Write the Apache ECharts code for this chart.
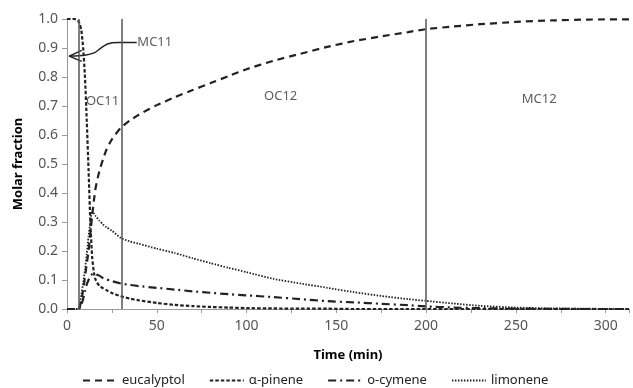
<!DOCTYPE html>
<html>
<head>
<meta charset="utf-8">
<script src="https://cdn.jsdelivr.net/npm/echarts@6/dist/echarts.min.js"></script>
<style>html,body{margin:0;padding:0;background:#fff}#c{width:633px;height:388px}</style>
</head>
<body>
<div id="c"></div>
<script>
// time axis (min)
const time = [0, 2, 4, 5, 6, 6.5, 7, 8, 9, 10, 11, 12, 13, 14, 15, 16, 18, 20, 22, 25, 30, 35, 40, 50, 60, 70, 80, 90, 100, 115, 130, 145, 160, 175, 190, 200, 215, 230, 250, 270, 290, 313];
const eucalyptol = [0, 0, 0, 0, 0, 0, 0.005, 0.03, 0.065, 0.11, 0.155, 0.2, 0.26, 0.32, 0.375, 0.42, 0.475, 0.515, 0.55, 0.585, 0.625, 0.65, 0.67, 0.703, 0.73, 0.755, 0.779, 0.803, 0.827, 0.856, 0.88, 0.904, 0.924, 0.94, 0.955, 0.965, 0.974, 0.982, 0.99, 0.995, 0.998, 0.999];
const alphaPinene = [1, 1, 1, 0.998, 0.995, 0.99, 0.985, 0.96, 0.9, 0.8, 0.65, 0.48, 0.3, 0.18, 0.125, 0.1, 0.08, 0.072, 0.065, 0.055, 0.044, 0.036, 0.03, 0.021, 0.014, 0.01, 0.007, 0.005, 0.003, 0.002, 0.001, 0.001, 0, 0, 0, 0, 0, 0, 0, 0, 0, 0];
const oCymene = [0, 0, 0, 0, 0, 0, 0.003, 0.015, 0.035, 0.06, 0.085, 0.1, 0.113, 0.12, 0.122, 0.12, 0.115, 0.107, 0.102, 0.096, 0.088, 0.083, 0.079, 0.073, 0.067, 0.061, 0.056, 0.051, 0.047, 0.041, 0.034, 0.027, 0.023, 0.018, 0.013, 0.009, 0.005, 0.003, 0.0015, 0.0005, 0, 0];
const limonene = [0, 0, 0, 0, 0, 0, 0.015, 0.05, 0.09, 0.135, 0.19, 0.25, 0.3, 0.34, 0.33, 0.32, 0.305, 0.292, 0.282, 0.27, 0.245, 0.233, 0.225, 0.208, 0.193, 0.175, 0.158, 0.142, 0.127, 0.104, 0.088, 0.073, 0.058, 0.045, 0.034, 0.028, 0.019, 0.011, 0.005, 0.002, 0.001, 0];

// stage boundaries (min)
const stageLines = [6.5, 30.5, 200];
// stage labels [time, fraction]
const stageLabelNames = ['MC11', 'OC11', 'OC12', 'MC12'];
const stageLabelPos = [[48.9, 0.918], [19.8, 0.716], [119, 0.734], [263, 0.724]];
// annotation arrow for MC11 (data units)
const arrowPath = [[38.8, 0.919], [28.5, 0.919], [22.5, 0.914], [18.5, 0.898], [15.4, 0.884], [9.9, 0.875], [1.3, 0.872]];
const arrowHead = [[8.2, 0.892], [1.2, 0.872], [8.2, 0.854]];

const xTickLabels = [0, 50, 100, 150, 200, 250, 300];

const FONT = 'Noto Sans';
const INK = '#222';
const pairs = arr => time.map((t, i) => [t, arr[i]]);

function curve(name, arr, dash, width) {
  return {
    name, type: 'line', data: pairs(arr), symbol: 'none', smooth: 0.2,
    lineStyle: { color: INK, width: width, type: dash, cap: 'butt' },
    itemStyle: { color: INK },
    z: 3
  };
}

const chart = echarts.init(document.getElementById('c'), null, { renderer: 'canvas' });
chart.setOption({
  animation: false,
  backgroundColor: '#fff',
  textStyle: { fontFamily: FONT },
  grid: { left: 67, right: 4, top: 19, bottom: 79 },
  xAxis: {
    type: 'value', min: 0, max: 313, interval: 25,
    name: 'Time (min)', nameLocation: 'middle', nameGap: 40,
    nameTextStyle: { fontFamily: FONT, fontWeight: 'bold', fontSize: 13, color: '#000' },
    axisLine: { lineStyle: { color: '#9a9a9a', width: 1 } },
    axisTick: { show: true, length: 4, lineStyle: { color: '#9a9a9a' } },
    axisLabel: {
      fontFamily: FONT, fontSize: 14, color: '#555', margin: 10,
      formatter: v => (xTickLabels.indexOf(v) >= 0 ? String(v) : '')
    },
    splitLine: { show: false }
  },
  yAxis: {
    type: 'value', min: 0, max: 1, interval: 0.1,
    name: 'Molar fraction', nameLocation: 'middle', nameGap: 42, nameRotate: 90,
    nameTextStyle: { fontFamily: FONT, fontWeight: 'bold', fontSize: 13, color: '#000' },
    axisLine: { show: true, lineStyle: { color: '#9a9a9a', width: 1 } },
    axisTick: { show: true, length: 5, lineStyle: { color: '#9a9a9a' } },
    axisLabel: { fontFamily: FONT, fontSize: 14, color: '#555', margin: 9, formatter: v => v.toFixed(1) },
    splitLine: { show: false }
  },
  legend: {
    left: 77, top: 369, itemWidth: 34, itemHeight: 12, itemGap: 24,
    data: ['eucalyptol', 'α-pinene', 'o-cymene', 'limonene'],
    itemStyle: { opacity: 0, borderWidth: 0 },
    textStyle: { fontFamily: FONT, fontSize: 13, color: '#222' }
  },
  series: [
    curve('eucalyptol', eucalyptol, [7, 5], 2.2),
    curve('α-pinene', alphaPinene, [3.5, 2], 2.2),
    curve('o-cymene', oCymene, [8, 4, 2, 4], 2.2),
    curve('limonene', limonene, [1.5, 1.5], 1.8),
    {
      name: 'stages', type: 'line', data: [], symbol: 'none',
      markLine: {
        silent: true, symbol: 'none', label: { show: false },
        lineStyle: { color: '#555', width: 1.5, type: 'solid' },
        data: stageLines.map(v => ({ xAxis: v }))
      }
    },
    {
      name: 'labels', type: 'scatter', symbolSize: 0, silent: true,
      data: stageLabelPos.map((p, i) => ({ value: p, name: stageLabelNames[i] })),
      label: {
        show: true, position: 'inside', formatter: p => p.name,
        fontFamily: FONT, fontSize: 13, color: '#333'
      }
    },
    {
      name: 'arrow', type: 'line', data: arrowPath, symbol: 'none', smooth: 0.25, silent: true,
      lineStyle: { color: INK, width: 1.5 }
    },
    {
      name: 'arrowhead', type: 'line', data: arrowHead, symbol: 'none', silent: true,
      lineStyle: { color: INK, width: 1.5 }
    }
  ]
});
</script>
</body>
</html>
